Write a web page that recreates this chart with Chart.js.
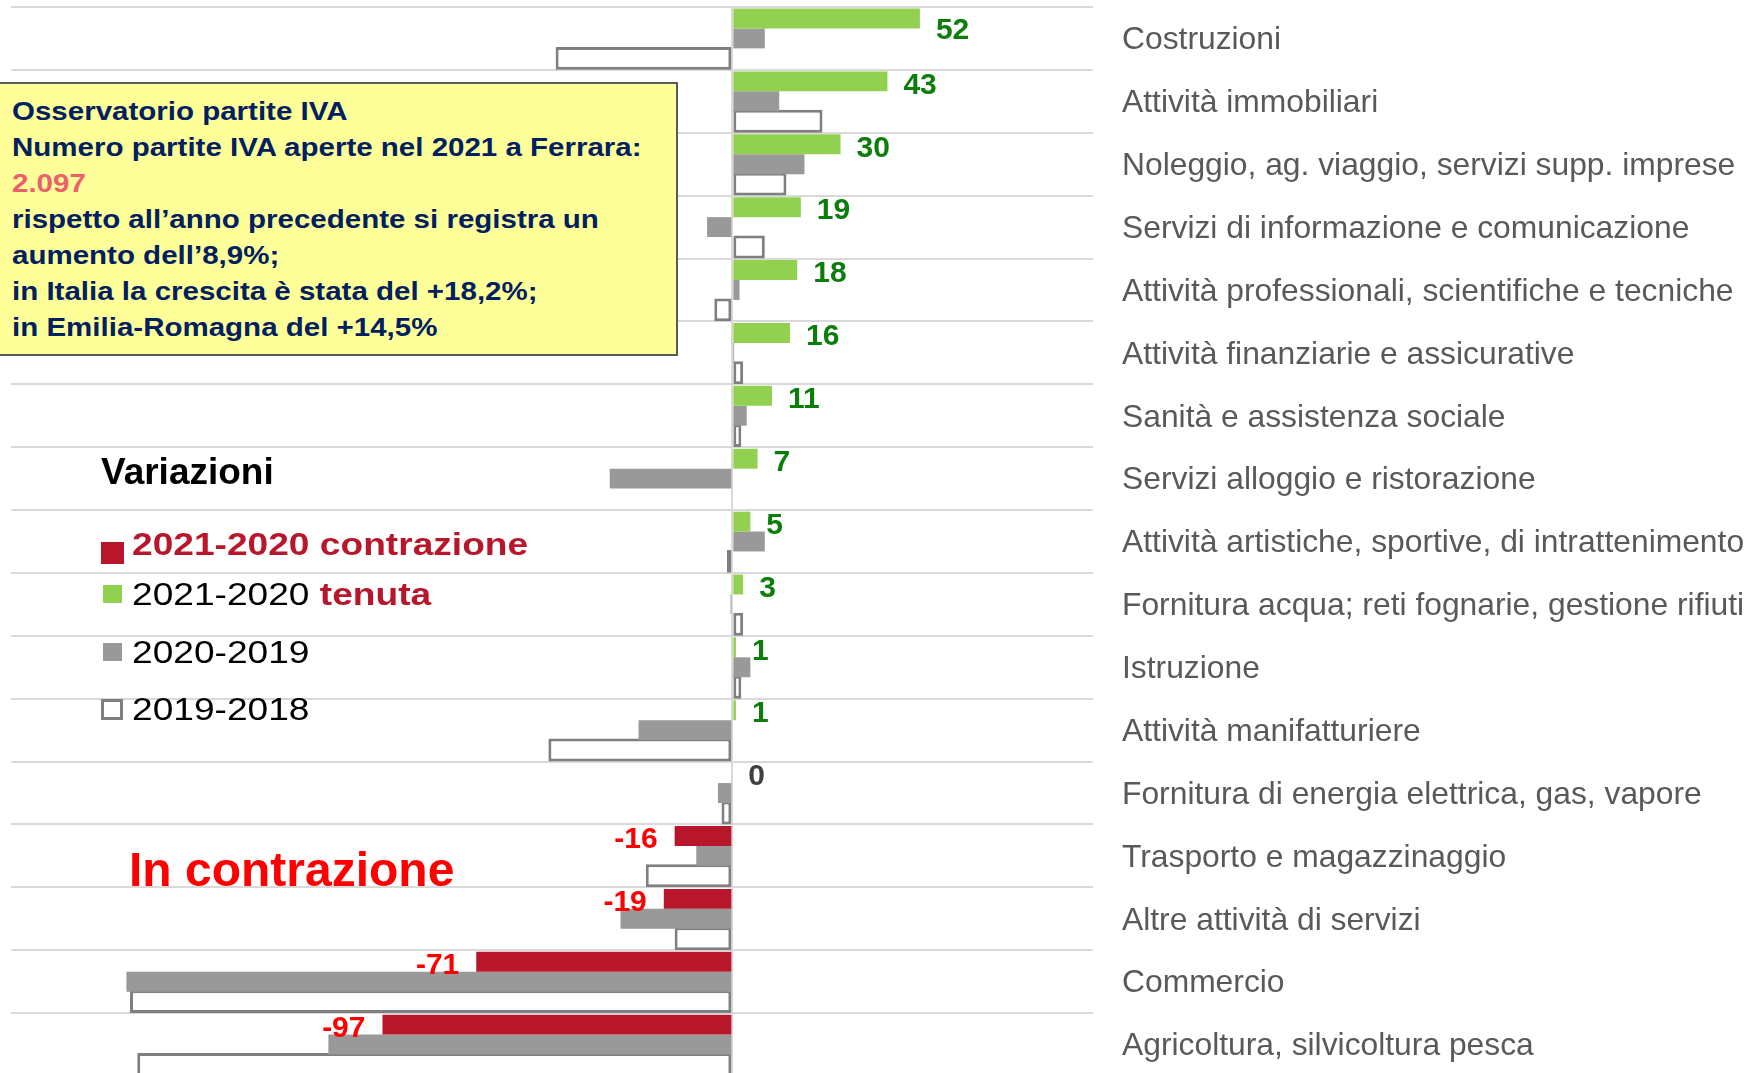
<!DOCTYPE html>
<html lang="it">
<head>
<meta charset="utf-8">
<title>Partite IVA Ferrara - variazioni per settore</title>
<script src="https://cdn.jsdelivr.net/npm/chart.js@4.4.1/dist/chart.umd.min.js"></script>
<style>
  html, body { margin: 0; padding: 0; background: #fff; overflow: hidden; }
  #wrap { position: relative; width: 1758px; height: 1080px; font-family: "Liberation Sans", Arial, sans-serif; }
  #area { position: absolute; left: 0; top: 0; width: 1758px; height: 1080px; }
  .txt { position: absolute; white-space: nowrap; line-height: 1; transform-origin: 0 0; }
  #box { position: absolute; left: -2px; top: 82px; width: 680px; height: 274px; box-sizing: border-box;
         background: #ffff99; border: 2px solid #5a5a5a; }
  .box { font-size: 25px; font-weight: bold; color: #002060; left: 12px; transform: scaleX(1.18); }
  .leg { font-size: 32px; left: 132px; color: #000; transform: scaleX(1.16); }
  .sq { position: absolute; box-sizing: border-box; }
</style>
</head>
<body>
<div id="wrap">
  <div id="area"><canvas id="grafico"></canvas></div>

  <div id="box"></div>
  <div class="txt box" style="top:99.3px">Osservatorio partite IVA</div>
  <div class="txt box" style="top:135.3px">Numero partite IVA aperte nel 2021 a Ferrara:</div>
  <div class="txt box" style="top:171.3px; color:#ee5f6b">2.097</div>
  <div class="txt box" style="top:207.3px">rispetto all’anno precedente si registra un</div>
  <div class="txt box" style="top:243.3px">aumento dell’8,9%;</div>
  <div class="txt box" style="top:279.3px">in Italia la crescita è stata del +18,2%;</div>
  <div class="txt box" style="top:315.3px">in Emilia-Romagna del +14,5%</div>

  <div class="txt" style="left:101px; top:452.7px; font-size:37px; font-weight:bold; color:#000">Variazioni</div>

  <div class="sq" style="left:101px; top:542px; width:23px; height:22px; background:#b8172b"></div>
  <div class="txt leg" style="top:527.9px; font-weight:bold; color:#b8172b">2021-2020 contrazione</div>
  <div class="sq" style="left:103px; top:585px; width:19px; height:18px; background:#92d050"></div>
  <div class="txt leg" style="top:577.9px">2021-2020 <b style="color:#b8172b">tenuta</b></div>
  <div class="sq" style="left:103px; top:643px; width:19px; height:18px; background:#999999"></div>
  <div class="txt leg" style="top:635.9px">2020-2019</div>
  <div class="sq" style="left:101px; top:699px; width:22px; height:21px; background:#fff; border:3px solid #7f7f7f"></div>
  <div class="txt leg" style="top:692.9px">2019-2018</div>

  <div class="txt" style="left:129px; top:846.4px; font-size:48px; font-weight:bold; color:#ff0000">In contrazione</div>
</div>

<script>
const categorie = [
  'Costruzioni',
  'Attività immobiliari',
  'Noleggio, ag. viaggio, servizi supp. imprese',
  'Servizi di informazione e comunicazione',
  'Attività professionali, scientifiche e tecniche',
  'Attività finanziarie e assicurative',
  'Sanità e assistenza sociale',
  'Servizi alloggio e ristorazione',
  'Attività artistiche, sportive, di intrattenimento',
  'Fornitura acqua; reti fognarie, gestione rifiuti',
  'Istruzione',
  'Attività manifatturiere',
  'Fornitura di energia elettrica, gas, vapore',
  'Trasporto e magazzinaggio',
  'Altre attività di servizi',
  'Commercio',
  'Agricoltura, silvicoltura pesca'
];

// variazioni 2021-2020 (verde = tenuta, rosso = contrazione)
const var2120 = [52, 43, 30, 19, 18, 16, 11, 7, 5, 3, 1, 1, 0, -16, -19, -71, -97];
// variazioni 2020-2019 (stimate dal grafico)
const var2019 = [9, 13, 20, -7, 2, 0.5, 4, -34, 9, -0.5, 5, -26, -4, -10, -31, -168, -112];
// variazioni 2019-2018 (stimate dal grafico)
const var1918 = [-49, 25, 15, 9, -5, 3, 2.5, 0, -1.5, 3, 2.5, -51, -3, -24, -16, -167, -165];

const VERDE = '#92d050';
const ROSSO = '#b8172b';
const GRIGIO = '#999999';
const BORDO = '#7f7f7f';
const FONT = '"Liberation Sans", Arial, sans-serif';

// etichette dei valori 2021-2020 accanto alle barre
const etichette = {
  id: 'etichette',
  afterDatasetsDraw(chart) {
    const { ctx, chartArea } = chart;
    const barre = chart.getDatasetMeta(0).data;
    ctx.save();
    ctx.font = 'bold 30px ' + FONT;
    ctx.textBaseline = 'middle';
    barre.forEach((barra, i) => {
      const v = var2120[i];
      const y = Math.max(barra.y + 4, chartArea.top + 24);
      if (v < 0) {
        ctx.fillStyle = '#ff0000';
        ctx.textAlign = 'right';
        ctx.fillText(String(v), barra.x - 17, y);
      } else {
        ctx.fillStyle = v > 0 ? '#0b7d0b' : '#404040';
        ctx.textAlign = 'left';
        ctx.fillText(String(v), barra.x + 16, y);
      }
    });
    ctx.restore();
  }
};

new Chart(document.getElementById('grafico'), {
  type: 'bar',
  data: {
    labels: categorie,
    datasets: [
      {
        label: '2021-2020',
        data: var2120,
        backgroundColor: var2120.map(v => v < 0 ? ROSSO : VERDE),
        barPercentage: 1,
        categoryPercentage: 0.95
      },
      {
        label: '2020-2019',
        data: var2019,
        backgroundColor: GRIGIO,
        barPercentage: 1,
        categoryPercentage: 0.95
      },
      {
        label: '2019-2018',
        data: var1918,
        backgroundColor: '#ffffff',
        borderColor: BORDO,
        borderWidth: 3,
        borderSkipped: false,
        barPercentage: 1.15,
        categoryPercentage: 0.95
      }
    ]
  },
  options: {
    indexAxis: 'y',
    responsive: true,
    maintainAspectRatio: false,
    animation: false,
    layout: { padding: { left: 11, top: 7, right: 0, bottom: 4 } },
    plugins: {
      legend: { display: false },
      tooltip: { enabled: false }
    },
    scales: {
      x: {
        min: -200,
        max: 100,
        ticks: { display: false, stepSize: 100 },
        border: { display: false },
        grid: {
          drawTicks: false,
          lineWidth: 2,
          color: c => (c.tick && c.tick.value === 0) ? '#d9d9d9' : 'rgba(0,0,0,0)'
        },
        afterFit: s => { s.height = 0; }
      },
      y: {
        position: 'right',
        border: { display: false },
        grid: { drawTicks: false, color: '#d9d9d9', lineWidth: 2 },
        ticks: {
          autoSkip: false,
          padding: 29,
          labelOffset: 2,
          color: '#595959',
          font: { family: FONT, size: 31.8 }
        },
        afterFit: s => {
          s.width = 665;
          s.paddingTop = 0;
          s.paddingBottom = 0;
        }
      }
    }
  },
  plugins: [etichette]
});
</script>
</body>
</html>
